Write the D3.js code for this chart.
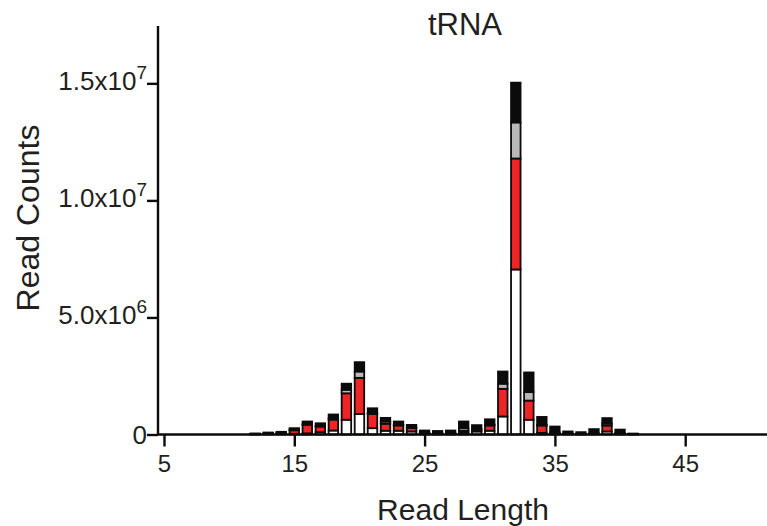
<!DOCTYPE html>
<html>
<head>
    <title>tRNA</title>
    <script src="https://cdn.jsdelivr.net/npm/d3@7"></script>
    <style>
        body { margin: 0; background: #fff; }
        text { font-family: "Liberation Sans", Arial, sans-serif; fill: #231f20; }
    </style>
</head>
<body>
<svg id="chart" width="767" height="526"></svg>

<script>
    // read lengths (x categories)
    const readLengths = [12, 13, 14, 15, 16, 17, 18, 19, 20, 21, 22, 23, 24, 25, 26,
        27, 28, 29, 30, 31, 32, 33, 34, 35, 36, 37, 38, 39, 40, 41];

    // read counts per segment, in millions (bottom to top of each bar)
    const whiteCounts = [0.01, 0.02, 0.03, 0.03, 0.05, 0.10, 0.17, 0.63, 0.88, 0.27, 0.16, 0.16, 0.13, 0.03, 0.02,
        0.02, 0.08, 0.13, 0.16, 0.77, 7.05, 0.63, 0.07, 0.03, 0.02, 0.01, 0.02, 0.13, 0.02, 0.01];
    const redCounts = [0.01, 0.02, 0.03, 0.15, 0.37, 0.24, 0.47, 1.13, 1.54, 0.61, 0.30, 0.225, 0.155, 0.03, 0.02,
        0.02, 0.08, 0.08, 0.225, 1.18, 4.74, 0.82, 0.315, 0.05, 0.01, 0.01, 0.02, 0.255, 0.03, 0.005];
    const grayCounts = [0.005, 0.01, 0.015, 0.02, 0.02, 0.02, 0.06, 0.15, 0.27, 0.03, 0.095, 0.02, 0.01, 0.01, 0.01,
        0.01, 0.11, 0.02, 0.03, 0.22, 1.54, 0.36, 0.02, 0.01, 0.01, 0.01, 0.01, 0.085, 0.01, 0.005];
    const blackCounts = [0.02, 0.035, 0.04, 0.07, 0.115, 0.12, 0.155, 0.26, 0.40, 0.21, 0.155, 0.15, 0.115, 0.10, 0.10,
        0.12, 0.285, 0.17, 0.235, 0.52, 1.70, 0.84, 0.345, 0.25, 0.09, 0.07, 0.18, 0.23, 0.15, 0.02];

    const seriesKeys = ["white", "red", "gray", "black"];
    const seriesColors = {white: "#ffffff", red: "#ee2524", gray: "#b9b9b9", black: "#0b0b0b"};

    // y ticks and x ticks
    const yTicks = [0, 5e6, 1e7, 1.5e7];
    const xTicks = [5, 15, 25, 35, 45];

    const table = readLengths.map((len, i) => ({
        length: len,
        white: whiteCounts[i] * 1e6,
        red: redCounts[i] * 1e6,
        gray: grayCounts[i] * 1e6,
        black: blackCounts[i] * 1e6
    }));

    const svg = d3.select("#chart");
    const margin = {left: 158, top: 26, bottom: 434.5};

    const x = d3.scaleLinear()
        .domain([4.54, 51.5])
        .range([margin.left, margin.left + 46.96 * 13.03]);

    const y = d3.scaleLinear()
        .domain([0, 1.745e7])
        .range([margin.bottom, margin.top]);

    const barWidth = 9.5;

    const stacked = d3.stack().keys(seriesKeys)(table);

    // bars
    svg.append("g")
        .selectAll("g")
        .data(stacked)
        .join("g")
        .attr("fill", d => seriesColors[d.key])
        .selectAll("rect")
        .data(d => d)
        .join("rect")
        .attr("x", d => x(d.data.length) - barWidth / 2)
        .attr("y", d => y(d[1]))
        .attr("width", barWidth)
        .attr("height", d => Math.max(0, y(d[0]) - y(d[1])))
        .attr("stroke", "#0b0b0b")
        .attr("stroke-width", 1.8);

    // y axis
    const yAxis = svg.append("g")
        .attr("transform", `translate(${margin.left},0)`)
        .call(d3.axisLeft(y).tickValues(yTicks).tickSize(11).tickFormat(""));
    yAxis.select(".domain").attr("d", `M0,${margin.top}V${margin.bottom}`);
    yAxis.selectAll("line, path").attr("stroke", "#0b0b0b").attr("stroke-width", 2.4);

    // tick labels like 1.5x10^7
    const yLabels = svg.append("g").attr("font-size", 26).attr("text-anchor", "end");
    yTicks.forEach(v => {
        const t = yLabels.append("text")
            .attr("x", margin.left - 11)
            .attr("y", y(v) + 7);
        if (v === 0) {
            t.attr("y", y(v) + 9).text("0");
            return;
        }
        const exp = Math.floor(Math.log10(v));
        const mant = (v / Math.pow(10, exp)).toFixed(1);
        t.append("tspan").text(mant + "x10");
        t.append("tspan")
            .attr("dy", -11)
            .attr("font-size", 19)
            .text(exp);
    });

    // x axis
    const xAxis = svg.append("g")
        .attr("transform", `translate(0,${margin.bottom})`)
        .call(d3.axisBottom(x).tickValues(xTicks).tickSize(12).tickPadding(8));
    xAxis.select(".domain").attr("d", `M${margin.left},0H767`);
    xAxis.selectAll("line, path").attr("stroke", "#0b0b0b").attr("stroke-width", 2.4);
    xAxis.selectAll("text")
        .attr("font-size", 24)
        .attr("font-family", "Liberation Sans, Arial, sans-serif")
        .attr("fill", "#231f20");

    // titles
    svg.append("text")
        .attr("x", 465)
        .attr("y", 35)
        .attr("text-anchor", "middle")
        .attr("font-size", 31)
        .text("tRNA");

    svg.append("text")
        .attr("x", 463)
        .attr("y", 520)
        .attr("text-anchor", "middle")
        .attr("font-size", 30)
        .text("Read Length");

    svg.append("text")
        .attr("transform", "translate(39,218) rotate(-90)")
        .attr("text-anchor", "middle")
        .attr("font-size", 32)
        .text("Read Counts");
</script>
</body>
</html>
